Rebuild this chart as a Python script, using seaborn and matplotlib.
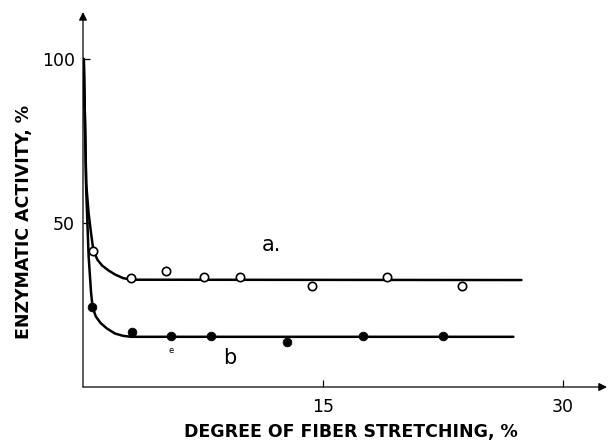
import matplotlib
matplotlib.use("Agg")
import matplotlib.pyplot as plt
import seaborn as sns
import pandas as pd

# measured points, curve a (open circles)
a_x = [0.64, 2.98, 5.19, 7.56, 9.81, 14.33, 19.02, 23.7]
a_y = [41.6, 33.1, 35.5, 33.4, 33.4, 30.9, 33.6, 30.9]
# measured points, curve b (filled circles)
b_x = [0.58, 3.04, 5.5, 8.0, 12.77, 17.48, 22.48]
b_y = [24.3, 16.9, 15.5, 15.5, 13.8, 15.6, 15.6]

# hand-drawn fitted curves
fit_a_x = [0.05, 0.2, 0.35, 0.5, 0.65, 0.9, 1.2, 1.6, 2.0, 2.5, 3.0, 27.4]
fit_a_y = [100, 62, 53, 47, 41.6, 38.8, 37.0, 35.5, 34.3, 33.2, 32.7, 32.6]
fit_b_x = [0.05, 0.2, 0.35, 0.5, 0.6, 0.8, 1.1, 1.5, 2.0, 2.5, 3.0, 26.9]
fit_b_y = [100, 60, 40, 29, 24.3, 21.5, 19.5, 17.8, 16.3, 15.6, 15.3, 15.3]

x_ticks = [15, 30]
y_ticks = [50, 100]

sns.set_style("white")
plt.rcParams["font.family"] = ["DejaVu Sans"]
plt.rcParams["text.color"] = "black"
plt.rcParams["axes.labelcolor"] = "black"
plt.rcParams["xtick.color"] = "black"
plt.rcParams["ytick.color"] = "black"

fig = plt.figure(figsize=(6.09, 4.43), dpi=100)
ax = fig.add_axes([83 / 609, 56 / 443, 524 / 609, 375 / 443])

fit_a = pd.DataFrame({"x": fit_a_x, "y": fit_a_y})
fit_b = pd.DataFrame({"x": fit_b_x, "y": fit_b_y})
sns.lineplot(data=fit_a, x="x", y="y", sort=False, color="black", lw=1.8, ax=ax)
sns.lineplot(data=fit_b, x="x", y="y", sort=False, color="black", lw=1.8, ax=ax)

pts_a = pd.DataFrame({"x": a_x, "y": a_y})
pts_b = pd.DataFrame({"x": b_x, "y": b_y})
sns.scatterplot(data=pts_a, x="x", y="y", marker="o", s=36, facecolor="white",
                edgecolor="black", linewidth=1.2, zorder=3, ax=ax)
sns.scatterplot(data=pts_b, x="x", y="y", marker="o", s=40, color="black",
                edgecolor="black", zorder=3, ax=ax)

ax.set_xlim(0, 32.75)
ax.set_ylim(0, 114.3)

for s in ax.spines.values():
    s.set_visible(False)

# axes with arrow heads
ax.annotate("", xy=(0, 1), xytext=(0, 0), xycoords="axes fraction",
            arrowprops=dict(arrowstyle="-|>", color="black", lw=0.9,
                            mutation_scale=12, shrinkA=0, shrinkB=0))
ax.annotate("", xy=(1, 0), xytext=(0, 0), xycoords="axes fraction",
            arrowprops=dict(arrowstyle="-|>", color="black", lw=0.9,
                            mutation_scale=12, shrinkA=0, shrinkB=0))

ax.set_xticks(x_ticks)
ax.set_yticks(y_ticks)
ax.set_xticklabels([str(t) for t in x_ticks])
ax.set_yticklabels([str(t) for t in y_ticks])
ax.tick_params(axis="both", direction="in", length=5, width=0.9, color="black",
               labelsize=12.5, bottom=True, left=True)
ax.tick_params(axis="x", pad=8)
ax.tick_params(axis="y", pad=6)

ax.set_xlabel("DEGREE OF FIBER STRETCHING, %", fontsize=12.5, fontweight="bold")
ax.set_ylabel("ENZYMATIC ACTIVITY, %", fontsize=12.5, fontweight="bold")
ax.xaxis.set_label_coords(0.512, -0.095)
ax.yaxis.set_label_coords(-0.095, 0.44)

ax.text(11.8, 43.3, "a.", fontsize=15, ha="center", va="center")
ax.text(9.2, 8.8, "b", fontsize=15, ha="center", va="center")
ax.text(5.5, 11.0, "e", fontsize=6, ha="center", va="center")

fig.savefig("out.png", dpi=100)
